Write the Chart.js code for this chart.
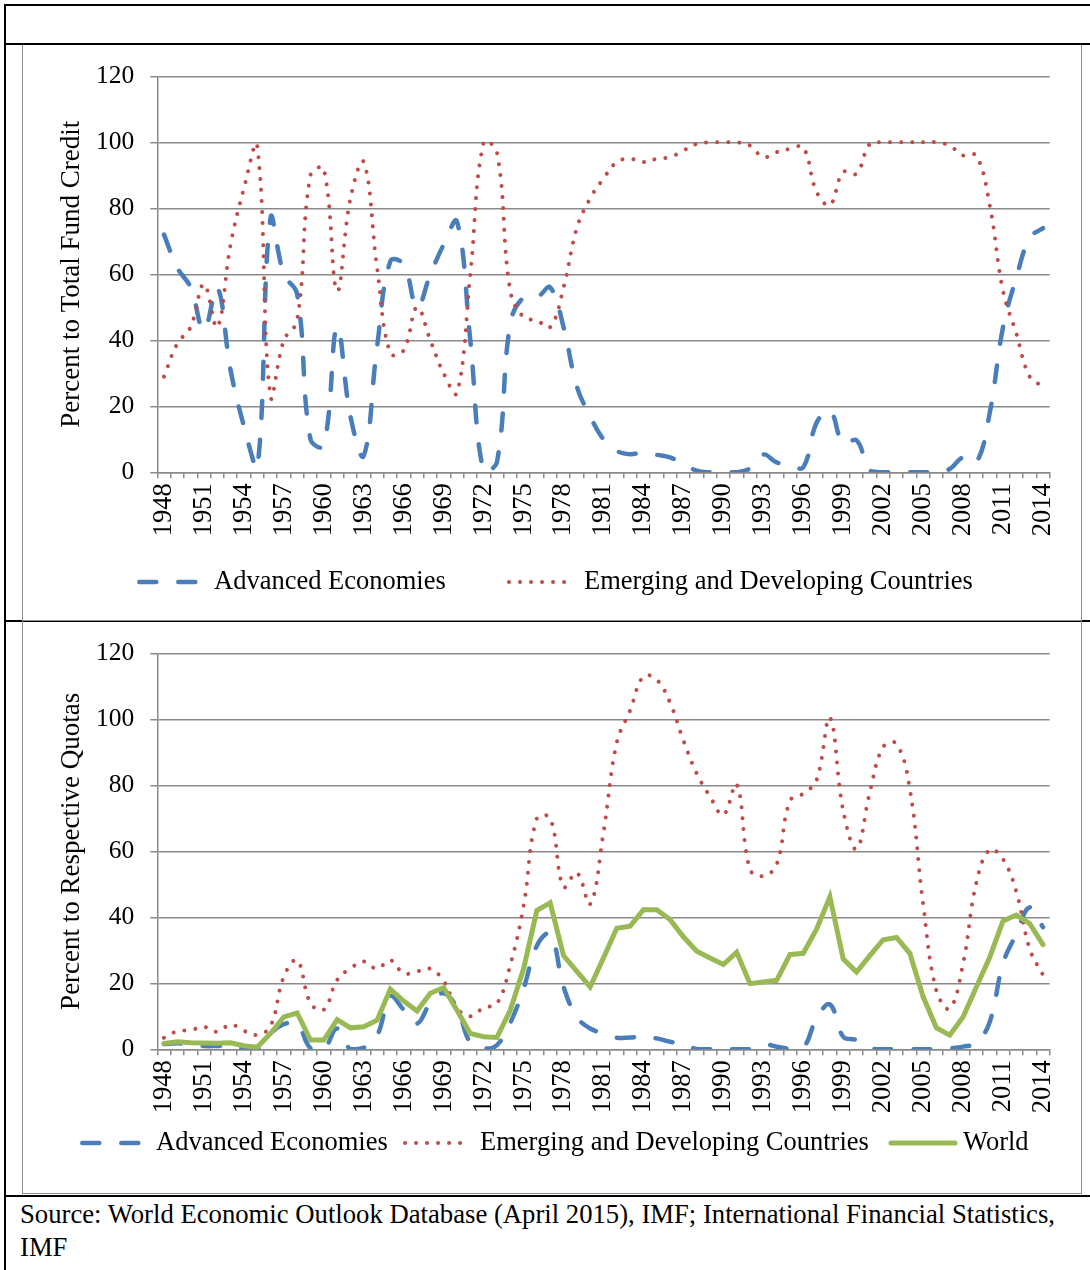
<!DOCTYPE html>
<html>
<head>
<meta charset="utf-8">
<script src="https://cdn.jsdelivr.net/npm/chart.js@4.4.1/dist/chart.umd.min.js"></script>
<style>
  html, body { margin: 0; padding: 0; background: #fff; }
  body { width: 1090px; height: 1270px; position: relative; overflow: hidden;
         font-family: "Liberation Serif", "Times New Roman", serif; }
  .rule { position: absolute; background: #000; }
  .frame { position: absolute; border: 1.5px solid #8c8c8c; box-sizing: border-box; }
  canvas { position: absolute; }
  #source { position: absolute; left: 20px; top: 1198px; font-size: 26.7px; line-height: 33px; color: #000; white-space: nowrap; }
</style>
</head>
<body>
<div class="rule" style="left:4px;top:620px;width:1086px;height:2px"></div>
<div class="rule" style="left:4px;top:1195px;width:1086px;height:2px"></div>
<div class="frame" style="left:22px;top:44px;width:1060px;height:577px"></div>
<div class="frame" style="left:22px;top:620px;width:1060px;height:574px"></div>
<div class="rule" style="left:4px;top:4px;width:1086px;height:2px"></div>
<div class="rule" style="left:4px;top:4px;width:2px;height:1266px"></div>
<div class="rule" style="left:4px;top:43px;width:1086px;height:2px"></div>

<canvas id="creditChart" width="1057" height="574" style="left:23px;top:45px"></canvas>
<canvas id="quotaChart" width="1057" height="571" style="left:23px;top:622px"></canvas>

<div id="source">Source: World Economic Outlook Database (April 2015), IMF; International Financial Statistics,<br>IMF</div>

<script>
// 年份 (X 軸)
const years = [
  "1948","1949","1950","1951","1952","1953","1954","1955","1956","1957",
  "1958","1959","1960","1961","1962","1963","1964","1965","1966","1967",
  "1968","1969","1970","1971","1972","1973","1974","1975","1976","1977",
  "1978","1979","1980","1981","1982","1983","1984","1985","1986","1987",
  "1988","1989","1990","1991","1992","1993","1994","1995","1996","1997",
  "1998","1999","2000","2001","2002","2003","2004","2005","2006","2007",
  "2008","2009","2010","2011","2012","2013","2014"
];

// 上圖: Percent to Total Fund Credit
const creditAdvanced = [
  72, 62, 56, 43, 56, 31, 14, 1, 77, 60,
  54, 10, 8, 44, 17, 5, 38, 64, 63, 50,
  60, 69, 76, 40, 0, 3, 45, 53, 53, 56,
  44, 26, 17, 10, 6.5, 5.5, 6, 5.3, 4.5, 2.5,
  0.5, 0, 0, 0, 1.2, 5.4, 3, 2.2, 1.5, 15,
  18.7, 8.7, 9.7, 0.5, 0, 0, 0, 0, 0, 1,
  4.5, 3, 18, 44, 59, 71, 74
];
const creditEmerging = [
  29, 39, 44, 57, 44, 69, 86, 99, 23, 40,
  46, 90, 92, 55, 83, 94, 62, 36, 37, 50,
  40, 30, 24, 60, 100, 97, 55, 47, 46, 44,
  56, 74, 83, 89, 94, 95, 94, 95, 95.5, 97.5,
  99.5, 100, 100, 100, 99, 95.5, 97, 98, 98.5, 85,
  81, 91, 90.5, 99.5, 100, 100, 100, 100, 100, 99,
  96, 96, 81, 55, 42, 29, 26
];

// 下圖: Percent to Respective Quotas
const quotaAdvanced = [
  1.6, 1.8, 1.5, 1, 1, 1, 0.3, 0, 4.8, 7.6,
  7.8, 0.3, 0, 6.3, 0, 0.5, 4.1, 16, 12, 7.8,
  14, 17, 12.5, 2, 0.3, 1.3, 8, 18.4, 31.4, 35,
  19, 9.8, 6.3, 4.8, 3.5, 3.6, 3.8, 3.3, 2.3, 1.6,
  0.1, 0, 0, 0, 0, 1.5, 0.8, 0.2, 0.5, 9.3,
  13.6, 3.8, 2.8, 0.3, 0, 0, 0, 0, 0, 0.3,
  0.8, 2, 8.3, 26, 35, 43, 37
];
const quotaEmerging = [
  3.5, 5.5, 5.8, 6.8, 5.3, 7.5, 5.6, 4.4, 7, 22,
  27, 14, 12, 21, 24.5, 26.6, 24.4, 27, 23, 23.6,
  24.4, 20.7, 12.5, 10, 12.6, 13.8, 25.5, 43.4, 70, 70,
  49.2, 53.5, 44, 65.7, 93, 102.7, 113, 112, 105, 93.6,
  83.6, 76.6, 71, 80.3, 54.5, 52.5, 56, 75.3, 77.5, 81.6,
  100.5, 72.3, 60.7, 78, 91.6, 92.6, 79, 44, 17.7, 12.3,
  26, 50.6, 60.5, 57.6, 47.7, 30.4, 22.5
];
const quotaWorld = [
  1.8, 2.3, 2, 1.9, 1.8, 2, 1.1, 0.6, 4.8, 9.8,
  11, 2.8, 2.8, 9, 6.5, 6.8, 8.8, 18.2, 14.6, 11.6,
  17, 18.7, 11.8, 4.8, 3.8, 3.6, 11.8, 24.4, 42.1, 44.4,
  28.4, 23.6, 18.9, 27.7, 36.7, 37.3, 42.3, 42.3, 39.3, 34.1,
  29.7, 27.7, 25.7, 29.4, 19.9, 20.4, 20.9, 28.7, 29.1, 36.4,
  46.2, 27.4, 23.4, 28.4, 33.2, 33.9, 29.1, 15.9, 6.5, 4.3,
  9.8, 18.9, 27.9, 38.9, 40.7, 38.1, 31.7
];

const yTicks = [0, 20, 40, 60, 80, 100, 120];

const FONT = '"Liberation Serif", "Times New Roman", serif';
const GRID = "#8a8a8a";
const BLUE = "#4a7ebb";
const RED = "#be4b48";
const GREEN = "#98b954";

// 自訂圖例: 依照原圖位置畫線段 + 文字
const lineLegend = {
  id: "lineLegend",
  afterDraw(chart, args, opts) {
    const ctx = chart.ctx;
    ctx.save();
    ctx.font = "26.5px " + FONT;
    ctx.textBaseline = "middle";
    ctx.fillStyle = "#000";
    opts.items.forEach((item, i) => {
      const ds = chart.data.datasets[i];
      ctx.save();
      ctx.strokeStyle = ds.borderColor;
      ctx.lineWidth = ds.borderWidth;
      ctx.lineCap = "round";
      ctx.setLineDash(ds.borderDash || []);
      ctx.beginPath();
      ctx.moveTo(item.x0, opts.y);
      ctx.lineTo(item.x1, opts.y);
      ctx.stroke();
      ctx.restore();
      ctx.fillText(ds.label, item.tx, opts.y);
    });
    ctx.restore();
  },
};

function advancedSet(values) {
  return {
    label: "Advanced Economies",
    data: values,
    borderColor: BLUE,
    borderWidth: 4.5,
    borderDash: [17, 22],
    borderCapStyle: "round",
    tension: 0.4,
    pointRadius: 0,
    order: 3,
  };
}

function emergingSet(values) {
  return {
    label: "Emerging and Developing Countries",
    data: values,
    borderColor: RED,
    borderWidth: 4,
    borderDash: [0.01, 11],
    borderCapStyle: "round",
    tension: 0.4,
    pointRadius: 0,
    order: 2,
  };
}

function createConfig(datasets, yTitle, pad, legend) {
  return {
    type: "line",
    data: { labels: years, datasets: datasets },
    options: {
      responsive: false,
      animation: false,
      events: [],
      devicePixelRatio: 1,
      layout: { padding: pad },
      plugins: {
        legend: { display: false },
        tooltip: { enabled: false },
        lineLegend: legend,
      },
      scales: {
        x: {
          type: "category",
          offset: true,
          grid: {
            offset: true,
            drawOnChartArea: false,
            drawTicks: true,
            tickLength: 6,
            color: GRID,
            lineWidth: 1.5,
          },
          border: { display: true, color: GRID, width: 1.5 },
          ticks: {
            autoSkip: false,
            minRotation: 90,
            maxRotation: 90,
            padding: 5,
            color: "#000",
            font: { family: FONT, size: 26.5 },
            callback: function (val, idx) {
              return idx % 3 === 0 ? this.getLabelForValue(val) : "";
            },
          },
          afterFit: (scale) => { scale.height = 70; },
        },
        y: {
          min: yTicks[0],
          max: yTicks[yTicks.length - 1],
          afterBuildTicks: (scale) => { scale.ticks = yTicks.map((v) => ({ value: v })); },
          grid: { color: GRID, lineWidth: 1.5, tickLength: 7 },
          border: { display: true, color: GRID, width: 1.5 },
          ticks: {
            padding: 16,
            color: "#000",
            font: { family: FONT, size: 25.5 },
          },
          title: {
            display: true,
            text: yTitle,
            color: "#000",
            font: { family: FONT, size: 27 },
            padding: { top: 33, bottom: 0 },
          },
          afterFit: (scale) => { scale.width = 134.3; },
        },
      },
    },
    plugins: [lineLegend],
  };
}

const creditConfig = createConfig(
  [advancedSet(creditAdvanced), emergingSet(creditEmerging)],
  "Percent to Total Fund Credit",
  { left: 0, right: 28.3, top: 28.3, bottom: 76.7 },
  {
    y: 537,
    items: [
      { x0: 116.3, x1: 172.3, tx: 191 },
      { x0: 486, x1: 547, tx: 561 },
    ],
  }
);

const worldSet = {
  label: "World",
  data: quotaWorld,
  borderColor: GREEN,
  borderWidth: 5,
  borderCapStyle: "round",
  borderJoinStyle: "miter",
  tension: 0,
  pointRadius: 0,
  order: 1,
};

const quotaConfig = createConfig(
  [advancedSet(quotaAdvanced), emergingSet(quotaEmerging), worldSet],
  "Percent to Respective Quotas",
  { left: 0, right: 28.3, top: 28.7, bottom: 73.7 },
  {
    y: 521,
    items: [
      { x0: 59.3, x1: 115.3, tx: 133 },
      { x0: 382, x1: 443, tx: 457 },
      { x0: 868, x1: 932, tx: 940 },
    ],
  }
);

const creditChart = new Chart(document.querySelector("#creditChart"), creditConfig);
const quotaChart = new Chart(document.querySelector("#quotaChart"), quotaConfig);
</script>
</body>
</html>
